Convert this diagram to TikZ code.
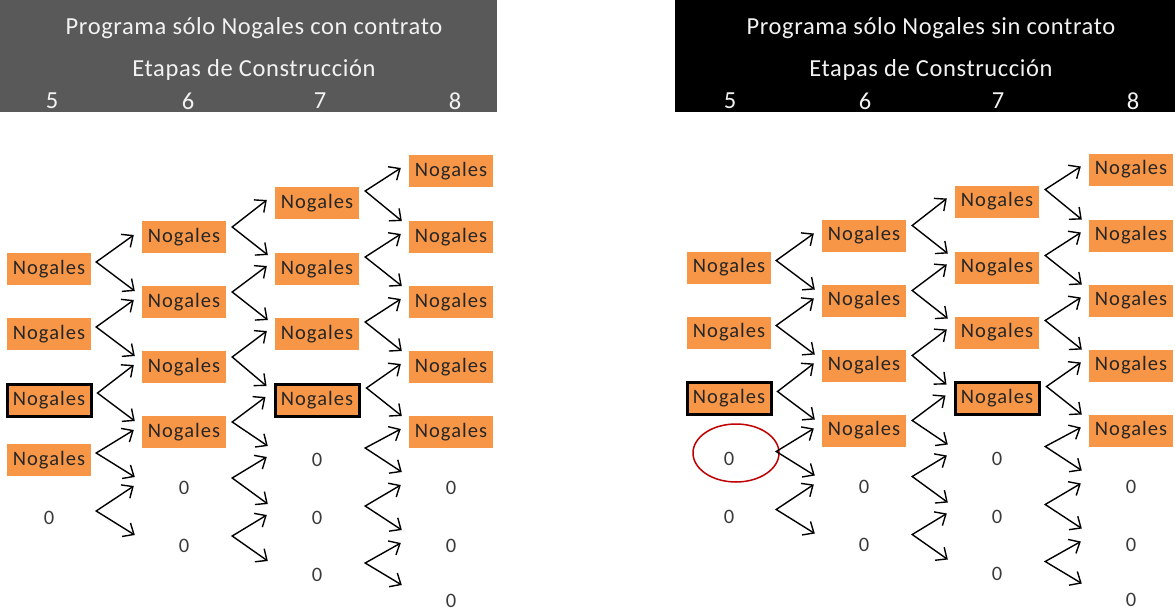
\documentclass[tikz,border=0pt]{standalone}
\usepackage{fontspec}
\setmainfont{Carlito}
\usetikzlibrary{arrows.meta}
\definecolor{nogorange}{HTML}{F79646}
\definecolor{hdrgray}{HTML}{595959}
\definecolor{zerocol}{HTML}{3A3A3A}
\definecolor{ringred}{HTML}{C00000}
\newfontfamily\cellfont[LetterSpace=5]{Carlito}
\newfontfamily\headfont[LetterSpace=2.5]{Carlito}
\tikzset{
  nog/.style={fill=nogorange, minimum width=84pt, minimum height=32pt, inner sep=0pt,
    font=\cellfont\fontsize{20.5}{21}\selectfont, text=black!85},
  nogb/.style={nog, draw=black, line width=3pt},
  zero/.style={minimum width=84pt, minimum height=32pt, inner sep=0pt,
    font=\cellfont\fontsize{20.5}{21}\selectfont, text=zerocol},
  arr/.style={{Straight Barb[length=9pt,width=16pt]}-{Straight Barb[length=9pt,width=16pt]},
    line width=1.4pt, line join=miter},
  hdr/.style={text=white!95!black, font=\headfont\fontsize{24.5}{25}\selectfont, inner sep=0pt},
}
\begin{document}
\begin{tikzpicture}[x=1pt,y=1pt]
\useasboundingbox (0,0) rectangle (1175,-613);
% headers
\fill[hdrgray] (0,0) rectangle (497,-112);
\fill[black] (675,0) rectangle (1175,-112);
\node[hdr] (lt) at (254,-28) {Programa sólo Nogales con contrato};
\node[hdr] (ls) at (254,-70) {Etapas de Construcción};
\node[hdr] (l5) at (52,-101) {5};
\node[hdr] (l6) at (188,-101) {6};
\node[hdr] (l7) at (320,-101) {7};
\node[hdr] (l8) at (455,-101) {8};
\node[hdr] (rt) at (931,-28) {Programa sólo Nogales sin contrato};
\node[hdr] (rs) at (931,-70) {Etapas de Construcción};
\node[hdr] (r5) at (730,-101) {5};
\node[hdr] (r6) at (865,-101) {6};
\node[hdr] (r7) at (998,-101) {7};
\node[hdr] (r8) at (1133,-101) {8};
% left panel
\node[nog]  (L51) at (49,-269) {Nogales};
\node[nog]  (L52) at (49,-334) {Nogales};
\node[nogb] (L53) at (49,-400) {Nogales};
\node[nog]  (L54) at (49,-460) {Nogales};
\node[zero] (L55) at (49,-518) {0};
\node[nog]  (L61) at (184,-237) {Nogales};
\node[nog]  (L62) at (184,-302) {Nogales};
\node[nog]  (L63) at (184,-367) {Nogales};
\node[nog]  (L64) at (184,-432) {Nogales};
\node[zero] (L65) at (184,-488) {0};
\node[zero] (L66) at (184,-546) {0};
\node[nog]  (L71) at (317,-203) {Nogales};
\node[nog]  (L72) at (317,-269) {Nogales};
\node[nog]  (L73) at (317,-334) {Nogales};
\node[nogb] (L74) at (317,-400) {Nogales};
\node[zero] (L75) at (317,-460) {0};
\node[zero] (L76) at (317,-518) {0};
\node[zero] (L77) at (317,-575) {0};
\node[nog]  (L81) at (451,-171) {Nogales};
\node[nog]  (L82) at (451,-237) {Nogales};
\node[nog]  (L83) at (451,-302) {Nogales};
\node[nog]  (L84) at (451,-367) {Nogales};
\node[nog]  (L85) at (451,-432) {Nogales};
\node[zero] (L86) at (451,-488) {0};
\node[zero] (L87) at (451,-546) {0};
\node[zero] (L88) at (451,-601) {0};
% right panel
\begin{scope}[shift={(680,1.5)}]
\node[nog]  (R51) at (49,-269) {Nogales};
\node[nog]  (R52) at (49,-334) {Nogales};
\node[nogb] (R53) at (49,-400) {Nogales};
\node[zero] (R54) at (49,-460) {0};
\node[zero] (R55) at (49,-518) {0};
\node[nog]  (R61) at (184,-237) {Nogales};
\node[nog]  (R62) at (184,-302) {Nogales};
\node[nog]  (R63) at (184,-367) {Nogales};
\node[nog]  (R64) at (184,-432) {Nogales};
\node[zero] (R65) at (184,-488) {0};
\node[zero] (R66) at (184,-546) {0};
\node[nog]  (R71) at (317,-203) {Nogales};
\node[nog]  (R72) at (317,-269) {Nogales};
\node[nog]  (R73) at (317,-334) {Nogales};
\node[nogb] (R74) at (317,-400) {Nogales};
\node[zero] (R75) at (317,-460) {0};
\node[zero] (R76) at (317,-518) {0};
\node[zero] (R77) at (317,-575) {0};
\node[nog]  (R81) at (451,-171) {Nogales};
\node[nog]  (R82) at (451,-237) {Nogales};
\node[nog]  (R83) at (451,-302) {Nogales};
\node[nog]  (R84) at (451,-367) {Nogales};
\node[nog]  (R85) at (451,-432) {Nogales};
\node[zero] (R86) at (451,-488) {0};
\node[zero] (R87) at (451,-546) {0};
\node[zero] (R88) at (451,-601) {0};
\draw[ringred, line width=1.5pt] (56,-454.5) ellipse (43 and 29);
\end{scope}
% arrows
\foreach \p in {L,R}{
  \foreach \i [evaluate=\i as \j using int(\i+1)] in {1,...,5}{
    \draw[arr] ([xshift=-8pt,yshift=2pt]\p6\i.west) -- ([xshift=5pt,yshift=7pt]\p5\i.east) -- ([xshift=-7pt,yshift=11pt]\p6\j.west);
  }
  \foreach \i [evaluate=\i as \j using int(\i+1)] in {1,...,6}{
    \draw[arr] ([xshift=-8pt,yshift=3pt]\p7\i.west) -- ([xshift=6pt,yshift=10pt]\p6\i.east) -- ([xshift=-7pt,yshift=14pt]\p7\j.west);
  }
  \foreach \i [evaluate=\i as \j using int(\i+1)] in {1,...,7}{
    \draw[arr] ([xshift=-8pt,yshift=3pt]\p8\i.west) -- ([xshift=6pt,yshift=12pt]\p7\i.east) -- ([xshift=-7pt,yshift=16pt]\p8\j.west);
  }
}
\end{tikzpicture}
\end{document}
